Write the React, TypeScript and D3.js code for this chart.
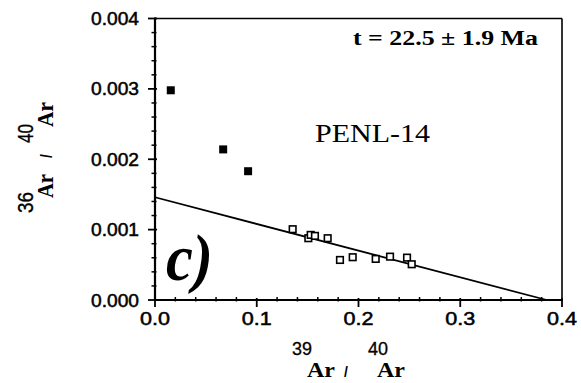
import React from "react";
import * as d3 from "d3";

// ---- data ----
const filledX = [0.0155, 0.067, 0.0915];
const filledY = [0.00298, 0.00214, 0.00183];
const openX = [0.1353, 0.1507, 0.153, 0.1572, 0.1697, 0.1818, 0.1943, 0.2169, 0.231, 0.2477, 0.2523];
const openY = [0.001006, 0.000878, 0.000925, 0.000911, 0.000878, 0.000569, 0.000608, 0.000584, 0.000616, 0.000602, 0.000508];
const fitX = [0, 0.385];
const fitY = [0.00146, 0];
const xTicks = [0, 0.1, 0.2, 0.3, 0.4];
const xTickLabels = ["0.0", "0.1", "0.2", "0.3", "0.4"];
const yTicks = [0, 0.001, 0.002, 0.003, 0.004];
const yTickLabels = ["0.000", "0.001", "0.002", "0.003", "0.004"];
const ageLabel = "t = 22.5 \u00B1 1.9 Ma";
const sampleLabel = "PENL-14";
const panelLabel = "c)";

const W = 581, H = 383;
const L = 155, R = 562, T = 18.5, B = 300;

export default function App() {
  const x = d3.scaleLinear().domain([0, 0.4]).range([L, R]);
  const y = d3.scaleLinear().domain([0, 0.004]).range([B, T]);
  const xMinor = d3.range(0, 0.4001, 0.02).filter((v) => !xTicks.some((t) => Math.abs(t - v) < 1e-9));
  const yMinor = d3.range(0, 0.004001, 0.0002).filter((v) => !yTicks.some((t) => Math.abs(t - v) < 1e-9));
  const line = d3.line<number>().x((_, i) => x(fitX[i])).y((_, i) => y(fitY[i]));
  const sans = "'Liberation Sans', Arial, sans-serif";
  const serif = "'Liberation Serif', 'Times New Roman', serif";

  return (
    <svg width={W} height={H} style={{ position: "absolute", left: 0, top: 0, background: "#fff" }}>
      <rect width={W} height={H} fill="#fff" />
      {/* frame */}
      <line x1={L} y1={T} x2={R} y2={T} stroke="#000" strokeWidth={1.6} />
      <line x1={R} y1={T} x2={R} y2={B} stroke="#000" strokeWidth={1.6} />
      <line x1={L} y1={T - 1} x2={L} y2={B + 1} stroke="#000" strokeWidth={2.2} />
      <line x1={L - 1} y1={B} x2={R + 1} y2={B} stroke="#000" strokeWidth={2.2} />
      {/* y ticks */}
      {yTicks.map((t) => (
        <line key={"yt" + t} x1={L - 7} x2={L + 2} y1={y(t)} y2={y(t)} stroke="#000" strokeWidth={1.8} />
      ))}
      {yMinor.map((t) => (
        <line key={"ym" + t} x1={L - 3.5} x2={L + 1.5} y1={y(t)} y2={y(t)} stroke="#000" strokeWidth={1.5} />
      ))}
      {/* x ticks */}
      {xTicks.map((t) => (
        <line key={"xt" + t} x1={x(t)} x2={x(t)} y1={B - 2} y2={B + 7} stroke="#000" strokeWidth={1.8} />
      ))}
      {xMinor.map((t) => (
        <line key={"xm" + t} x1={x(t)} x2={x(t)} y1={B - 3} y2={B + 1.5} stroke="#000" strokeWidth={1.5} />
      ))}
      {/* tick labels */}
      {yTicks.map((t, i) => (
        <text key={"yl" + t} x={139} y={y(t) + 6.5} textAnchor="end" fontFamily={sans} fontSize={18}
          textLength={48} lengthAdjust="spacingAndGlyphs" stroke="#000" strokeWidth={0.5}>{yTickLabels[i]}</text>
      ))}
      {xTicks.map((t, i) => (
        <text key={"xl" + t} x={x(t)} y={325} textAnchor="middle" fontFamily={sans} fontSize={18}
          textLength={30} lengthAdjust="spacingAndGlyphs" stroke="#000" strokeWidth={0.5}>{xTickLabels[i]}</text>
      ))}
      {/* fit line */}
      <path d={line(fitX) || ""} fill="none" stroke="#000" strokeWidth={1.8} />
      {/* filled squares */}
      {filledX.map((v, i) => (
        <rect key={"f" + i} x={x(v) - 4} y={y(filledY[i]) - 4} width={8} height={8} fill="#000" />
      ))}
      {/* open squares */}
      {openX.map((v, i) => (
        <rect key={"o" + i} x={x(v) - 3.3} y={y(openY[i]) - 3.3} width={6.6} height={6.6} fill="#fff" stroke="#000" strokeWidth={1.6} />
      ))}
      {/* annotations */}
      <text x={353} y={45} fontFamily={serif} fontWeight="bold" fontSize={20} textLength={185} lengthAdjust="spacingAndGlyphs">{ageLabel}</text>
      <text x={315} y={141.5} fontFamily={serif} fontSize={25} textLength={115} lengthAdjust="spacingAndGlyphs">{sampleLabel}</text>
      <text x={166} y={280} fontFamily={serif} fontWeight="bold" fontStyle="italic" fontSize={66} textLength={47} lengthAdjust="spacingAndGlyphs">{panelLabel}</text>
      {/* x axis label */}
      <text x={292} y={355} fontFamily={sans} fontSize={18} textLength={20} lengthAdjust="spacingAndGlyphs" stroke="#000" strokeWidth={0.3}>39</text>
      <text x={307} y={377} fontFamily={serif} fontWeight="bold" fontSize={22} textLength={28} lengthAdjust="spacingAndGlyphs">Ar</text>
      <text x={344} y={377} fontFamily={sans} fontWeight="bold" fontSize={14}>/</text>
      <text x={368} y={355} fontFamily={sans} fontSize={18} textLength={20} lengthAdjust="spacingAndGlyphs" stroke="#000" strokeWidth={0.3}>40</text>
      <text x={377} y={377} fontFamily={serif} fontWeight="bold" fontSize={22} textLength={28} lengthAdjust="spacingAndGlyphs">Ar</text>
      {/* y axis label: local x runs up the page, local y=0 at page x=53 */}
      <g transform="translate(53,213) rotate(-90) scale(1,1.2)">
        <text x={0} y={-20 / 1.2} fontFamily={sans} fontSize={18} textLength={21} lengthAdjust="spacingAndGlyphs" stroke="#000" strokeWidth={0.3}>36</text>
        <text x={15} y={0} fontFamily={serif} fontWeight="bold" fontSize={20} textLength={24} lengthAdjust="spacingAndGlyphs">Ar</text>
        <text x={55} y={-1} fontFamily={sans} fontWeight="bold" fontSize={14}>/</text>
        <text x={70} y={-20 / 1.2} fontFamily={sans} fontSize={18} textLength={19} lengthAdjust="spacingAndGlyphs" stroke="#000" strokeWidth={0.3}>40</text>
        <text x={86} y={0} fontFamily={serif} fontWeight="bold" fontSize={20} textLength={25} lengthAdjust="spacingAndGlyphs">Ar</text>
      </g>
    </svg>
  );
}
